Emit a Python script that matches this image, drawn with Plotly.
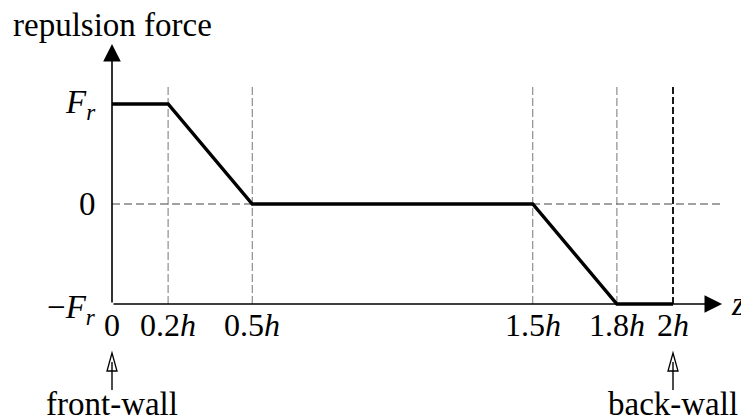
import plotly.graph_objects as go

# ---- data ----
z_breaks = [0, 0.2, 0.5, 1.5, 1.8, 2.0]
force = [1, 1, 0, 0, -1, -1]
guide_z = [0.2, 0.5, 1.5, 1.8]
wall_z = [0, 2.0]
wall_labels = ["front-wall", "back-wall"]
tick_z = [0, 0.2, 0.5, 1.5, 1.8, 2.0]
tick_labels = ["0", "0.2<i>h</i>", "0.5<i>h</i>", "1.5<i>h</i>", "1.8<i>h</i>", "2<i>h</i>"]
force_levels = [1, 0, -1]
force_labels = ["<i>F<sub>r</sub></i>", "0", "\u2212<i>F<sub>r</sub></i>"]

FONT = "Liberation Serif"
FS = 32
FS_BIG = 33
x_end = 2.175
y_top_axis = 1.6
guide_top = 1.17

fig = go.Figure()

# zero dashed line
fig.add_trace(go.Scatter(x=[0, x_end], y=[0, 0], mode="lines",
                         line=dict(color="#444", width=1.2, dash="8px,4px"),
                         hoverinfo="skip", showlegend=False))
# gray guides
for gz in guide_z:
    fig.add_trace(go.Scatter(x=[gz, gz], y=[-1, guide_top], mode="lines",
                             line=dict(color="#777", width=1, dash="8px,3px"),
                             hoverinfo="skip", showlegend=False))
# back wall dashed black
fig.add_trace(go.Scatter(x=[wall_z[1], wall_z[1]], y=[-1, guide_top], mode="lines",
                         line=dict(color="#000", width=1.8, dash="7px,3px"),
                         hoverinfo="skip", showlegend=False))
# force profile
fig.add_trace(go.Scatter(x=z_breaks, y=force, mode="lines",
                         line=dict(color="#000", width=3.4),
                         hoverinfo="skip", showlegend=False))

ann = []
# axes arrows
ann.append(dict(x=0, y=y_top_axis, ax=0, ay=-1, xref="x", yref="y", axref="x", ayref="y",
                showarrow=True, arrowhead=2, arrowsize=2.2, arrowwidth=1.6, arrowcolor="#000", text=""))
ann.append(dict(x=x_end, y=-1, ax=0, ay=-1, xref="x", yref="y", axref="x", ayref="y",
                showarrow=True, arrowhead=2, arrowsize=2.2, arrowwidth=1.6, arrowcolor="#000", text=""))

font = dict(family=FONT, size=FS, color="#000")
fontb = dict(family=FONT, size=FS_BIG, color="#000")
ann.append(dict(x=0, y=1.79, xref="x", yref="y", text="repulsion force", showarrow=False,
                font=fontb, xanchor="center", yanchor="middle"))
ann.append(dict(x=x_end + 0.025, y=-1.0, xref="x", yref="y", text="<i>z</i>", showarrow=False,
                font=fontb, xanchor="left", yanchor="middle"))
for lv, lb in zip(force_levels, force_labels):
    yy = lv if lv >= 0 else lv - 0.05
    ann.append(dict(x=-0.05, y=yy, xref="x", yref="y", text=lb, showarrow=False,
                    font=fontb, xanchor="right", yanchor="middle"))
for tz, tl in zip(tick_z, tick_labels):
    ann.append(dict(x=tz, y=-1.21, xref="x", yref="y", text=tl, showarrow=False,
                    font=font, xanchor="center", yanchor="middle"))

shapes = []
for wz, wl in zip(wall_z, wall_labels):
    ann.append(dict(x=wz, y=-2.0, xref="x", yref="y", text=wl, showarrow=False,
                    font=fontb, xanchor="center", yanchor="middle"))
    shapes.append(dict(type="line", xref="x", yref="y", x0=wz, x1=wz, y0=-1.86, y1=-1.58,
                       line=dict(color="#000", width=1.4)))
    shapes.append(dict(type="path", xref="x", yref="y", xsizemode="pixel", ysizemode="pixel",
                       xanchor=wz, yanchor=-1.49,
                       path="M0,0 L-5,-18 L5,-18 Z",
                       line=dict(color="#000", width=1.3), fillcolor="rgba(0,0,0,0)"))

# page body has an 8px margin, so shift the data ranges to compensate
fig.update_layout(
    width=749, height=419, autosize=False,
    margin=dict(l=0, r=0, t=0, b=0),
    paper_bgcolor="white", plot_bgcolor="white",
    xaxis=dict(range=[-104 / 280.5, 645 / 280.5], visible=False, fixedrange=True),
    yaxis=dict(range=[-2.23, 1.96], visible=False, fixedrange=True),
    annotations=ann, shapes=shapes, showlegend=False,
)

fig.write_html("out.html")
